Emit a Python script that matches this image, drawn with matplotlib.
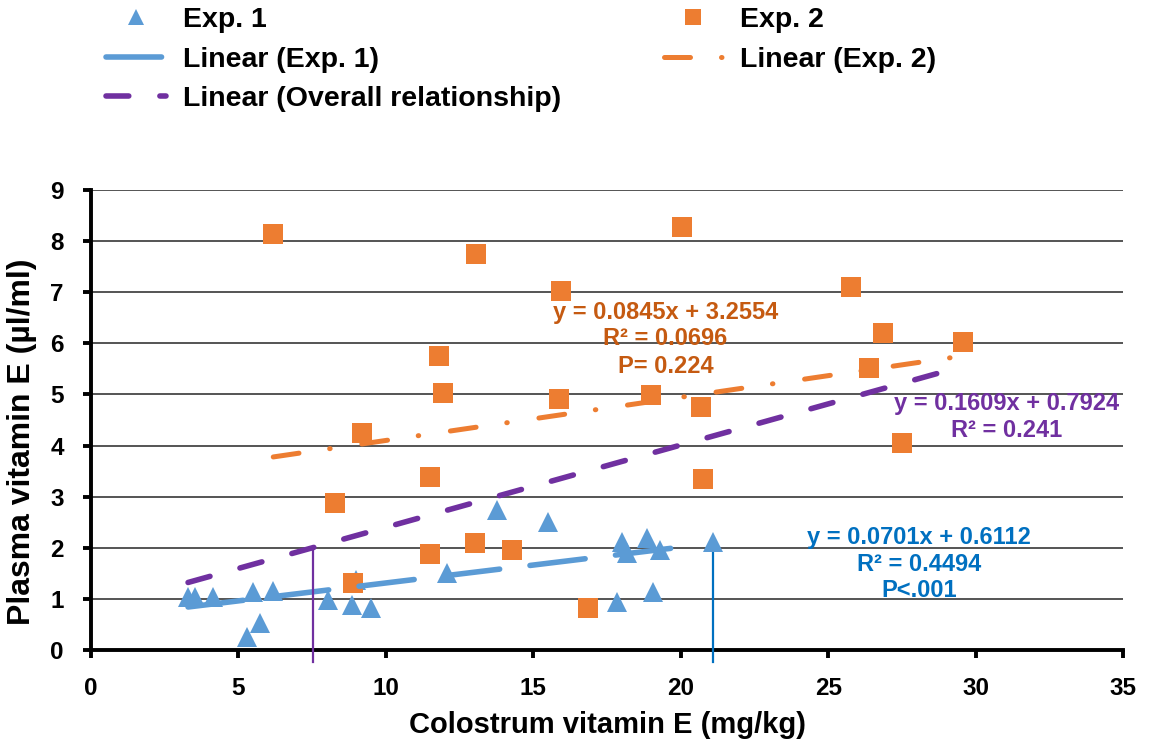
# -*- coding: utf-8 -*-
"""
Colostrum vs plasma vitamin E, two experiments with linear trend lines.
"""
import matplotlib
matplotlib.use("Agg")
import matplotlib.pyplot as plt

plt.rcParams['font.family'] = ['Liberation Sans', 'DejaVu Sans']
plt.rcParams['font.weight'] = 'bold'
plt.rcParams['axes.labelweight'] = 'bold'

# Exp. 1 (colostrum mg/kg, plasma ug/ml)
exp1_x = [3.29, 3.53, 4.14, 5.29, 5.5, 5.73, 6.18, 8.04, 8.86, 9.0, 9.5,
          12.08, 13.78, 15.5, 17.85, 18.0, 18.19, 18.87, 19.07, 19.31]
exp1_y = [1.04, 1.04, 1.04, 0.26, 1.14, 0.53, 1.15, 0.98, 0.88, 1.37, 0.82,
          1.5, 2.74, 2.5, 0.94, 2.11, 1.9, 2.19, 1.14, 1.96]

# Exp. 2
exp2_x = [6.18, 8.28, 8.89, 9.2, 11.5, 11.5, 11.81, 11.94, 13.03, 13.06,
          14.29, 15.88, 15.95, 16.86, 19.0, 20.05, 20.7, 20.77, 25.79,
          26.4, 26.87, 27.49, 29.59]
exp2_y = [8.14, 2.88, 1.31, 4.25, 3.39, 1.88, 5.75, 5.03, 2.09, 7.75,
          1.96, 4.91, 7.03, 0.82, 4.99, 8.28, 4.76, 3.35, 7.1,
          5.52, 6.2, 4.05, 6.03]

# trend lines: slope, intercept, x range
fit1 = (0.0701, 0.6112, 3.29, 20.1)
fit2 = (0.0845, 3.2554, 6.18, 29.59)
fit_all = (0.1609, 0.7924, 3.29, 29.59)

# vertical markers on the x axis
mark_all_x = 7.52
mark1_x = 21.1
mark1_tip = 2.11

text1 = ["y = 0.0701x + 0.6112", "R² = 0.4494", "P<.001"]
text2 = ["y = 0.0845x + 3.2554", "R² = 0.0696", "P= 0.224"]
text_all = ["y = 0.1609x + 0.7924", "R² = 0.241"]

c_blue = '#5B9BD5'
c_orange = '#ED7D31'
c_purple = '#7030A0'


def line(fit):
    a, b, x0, x1 = fit
    return [x0, x1], [a * x0 + b, a * x1 + b]


fig = plt.figure(figsize=(11.54, 7.44), dpi=100)
ax = fig.add_axes([0.0789, 0.1263, 0.8942, 0.6183])

ax.set_xlim(0, 35)
ax.set_ylim(0, 9)
ax.set_xticks(range(0, 36, 5))
ax.set_yticks(range(0, 10))
ax.grid(axis='y', color='#262626', lw=1.1, zorder=0)
ax.set_axisbelow(True)
for s in ['top', 'right']:
    ax.spines[s].set_visible(False)
for s in ['left', 'bottom']:
    ax.spines[s].set_linewidth(2.8)
ax.tick_params(length=5.5, width=2.8, labelsize=17.5, pad=14)

# points
h1, = ax.plot(exp1_x, exp1_y, '^', color=c_blue, ms=14.5, mew=0, zorder=3)
h2, = ax.plot(exp2_x, exp2_y, 's', color=c_orange, ms=14.5, mew=0, zorder=4)

# trend lines
lx, ly = line(fit1)
t1, = ax.plot(lx, ly, color=c_blue, lw=4.0, dashes=(10, 5.5),
              dash_capstyle='round', zorder=5)
lx, ly = line(fit2)
t2, = ax.plot(lx, ly, color=c_orange, lw=3.6, dashes=(5.2, 6.2, 0.1, 6.4),
              dash_capstyle='round', zorder=5)
lx, ly = line(fit_all)
t3, = ax.plot(lx, ly, color=c_purple, lw=4.0, dashes=(4.1, 5.6),
              dash_capstyle='round', zorder=6)

# vertical pointers
a, b = fit_all[0], fit_all[1]
ax.plot([mark_all_x, mark_all_x], [-0.23, a * mark_all_x + b], color=c_purple,
        lw=1.6, clip_on=False, zorder=6)
ax.plot([mark1_x, mark1_x], [-0.23, mark1_tip - 0.1], color='#0070C0',
        lw=1.6, clip_on=False, zorder=6)
ax.plot([mark1_x], [mark1_tip], '^', color=c_blue, ms=14.5, mew=0, zorder=6)

# equations
for s, yy in zip(text2, [6.61, 6.10, 5.54]):
    ax.text(19.48, yy, s, color='#C55A11', fontsize=17, ha='center',
            va='center', zorder=7)
for s, yy in zip(text_all, [4.83, 4.30]):
    ax.text(31.05, yy, s, color=c_purple, fontsize=17, ha='center',
            va='center', zorder=7)
for s, yy in zip(text1, [2.21, 1.68, 1.17]):
    ax.text(28.08, yy, s, color='#0070C0', fontsize=17, ha='center',
            va='center', zorder=7)

ax.set_xlabel("Colostrum vitamin E (mg/kg)", fontsize=21, labelpad=8)
ax.set_ylabel("Plasma vitamin E (µl/ml)", fontsize=23)
ax.yaxis.set_label_coords(-0.052, 0.452)

fig.legend([h1, t1, t3, h2, t2],
           ["Exp. 1", "Linear (Exp. 1)", "Linear (Overall relationship)",
            "Exp. 2", "Linear (Exp. 2)"],
           ncol=2, loc='upper left', bbox_to_anchor=(0.0919, 0.99),
           frameon=False, fontsize=20.5, handlelength=2.1,
           handletextpad=0.6, columnspacing=3.6, labelspacing=0.46,
           borderpad=0, borderaxespad=0, markerscale=0.75)

fig.savefig("out.png", dpi=100)
